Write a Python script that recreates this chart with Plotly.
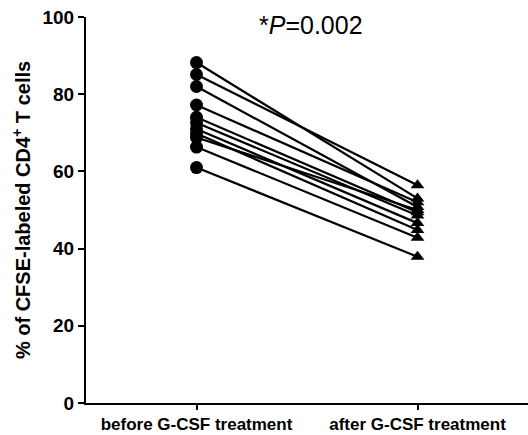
import plotly.graph_objects as go

categories = ["before G-CSF treatment", "after G-CSF treatment"]
before_vals = [88.2, 85.1, 82.0, 77.2, 74.0, 72.6, 71.0, 69.8, 68.8, 66.3, 61.0]
after_vals = [53.0, 56.4, 50.8, 52.0, 49.4, 48.6, 46.6, 44.8, 50.0, 42.8, 37.9]
y_ticks = [0, 20, 40, 60, 80, 100]
p_text = "*<i>P</i>=0.002"
y_title = "% of CFSE-labeled CD4<sup>+</sup> T cells"

FONT = "Liberation Sans, Arial"

fig = go.Figure()
for b, a in zip(before_vals, after_vals):
    fig.add_trace(go.Scatter(
        x=[0, 1], y=[b, a], mode="lines",
        line=dict(color="black", width=2.2), showlegend=False, hoverinfo="skip"))
fig.add_trace(go.Scatter(
    x=[0] * len(before_vals), y=before_vals, mode="markers",
    marker=dict(symbol="circle", size=13, color="black"), showlegend=False))
fig.add_trace(go.Scatter(
    x=[1] * len(after_vals), y=after_vals, mode="markers",
    marker=dict(symbol="triangle-up", size=12, color="black"), showlegend=False))

fig.add_annotation(x=0.52, y=98, xref="x", yref="y", text=p_text, showarrow=False,
                   font=dict(family=FONT, size=25, color="black"))

fig.update_layout(
    width=528, height=435,
    margin=dict(l=86, r=0, t=17, b=32),
    paper_bgcolor="white", plot_bgcolor="white",
    font=dict(family=FONT, color="black"),
    xaxis=dict(range=[-0.5, 1.5], tickvals=[0, 1], ticktext=categories,
               showgrid=False, zeroline=False, showline=True, linecolor="black", linewidth=2,
               ticks="outside", ticklen=5, tickwidth=2, tickcolor="black",
               tickfont=dict(size=17, family=FONT, weight="bold", color="black")),
    yaxis=dict(range=[0, 100], tickvals=y_ticks, showgrid=False, zeroline=False,
               showline=True, linecolor="black", linewidth=2,
               ticks="outside", ticklen=6, tickwidth=2, tickcolor="black",
               tickfont=dict(size=19, family=FONT, weight="bold", color="black"),
               title=dict(text=y_title, standoff=6,
                          font=dict(size=20, family=FONT, weight="bold", color="black"))),
)
fig.write_html("out.html")
